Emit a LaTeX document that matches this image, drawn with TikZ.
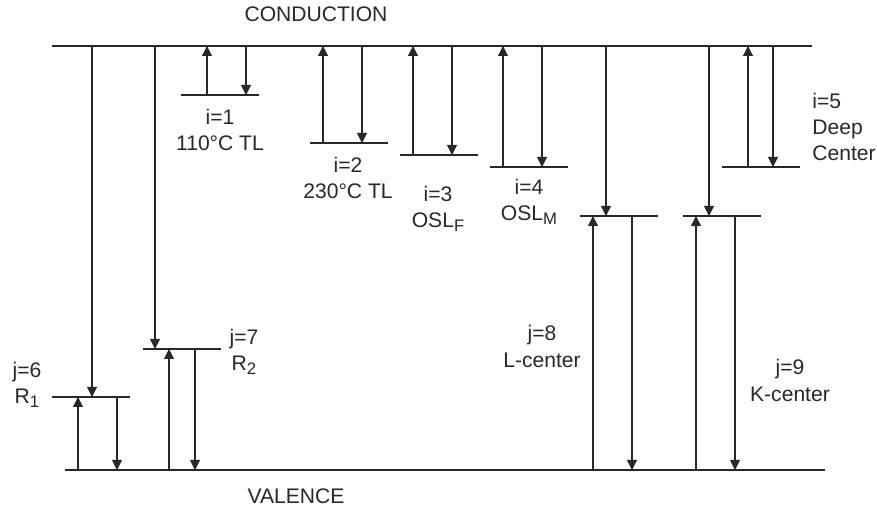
\documentclass[tikz,border=0pt]{standalone}
\usepackage{fontspec}
\setmainfont{Liberation Sans}
\usepackage{tikz}
\usetikzlibrary{arrows.meta, positioning, calc}
\definecolor{mydark}{RGB}{40,40,40}
\newcommand{\lowsub}[1]{\raisebox{-2.4pt}{\fontsize{9.5}{10}\selectfont #1}}
\tikzset{
  band/.style={line width=0.6pt, color=mydark},
  level/.style={line width=0.6pt, color=mydark},
  arrow/.style={-{Triangle[length=0.2cm, width=0.2cm]}, line width=0.6pt, color=mydark},
  levtext/.style={font=\fontsize{12}{15}\selectfont, text=mydark, align=center, inner sep=0pt},
  bandtext/.style={font=\fontsize{12}{15}\selectfont, text=mydark, inner sep=0pt}
}

\begin{document}
\begin{tikzpicture}
  \useasboundingbox (0,0) rectangle (17.54,10.22);

  % --- Bands ---
  \coordinate (cb) at (1.04,9.30);
  \coordinate (vb) at (1.30,0.82);
  \draw[band] (cb) -- (16.24,9.30);
  \draw[band] (vb) -- (16.50,0.82);
  \draw[band, line width=1.2pt] (2.60,0.82) -- (4.14,0.82);
  \node[bandtext] (cbtext) at (6.32,9.94) {CONDUCTION};
  \node[bandtext] (vbtext) at (5.92,0.30) {VALENCE};

  % --- Electron traps (i=1..5) ---
  \foreach \name/\x/\y/\u/\d in {i1/3.62/8.32/0.52/1.30, i2/6.20/7.36/0.26/1.04,
      i3/8.00/7.12/0.26/1.04, i4/9.80/6.88/0.26/1.04, i5/14.44/6.88/0.52/1.02} {
    \coordinate (\name) at (\x,\y);
    \coordinate (\name up) at ($(\name)+(\u,0)$);
    \coordinate (\name dn) at ($(\name)+(\d,0)$);
    \draw[level] (\name) -- ++(1.56,0);
    \draw[arrow] (\name up) -- (\name up |- cb);
    \draw[arrow] (\name dn |- cb) -- (\name dn);
  }

  % --- Recombination centers (j=6..9) ---
  \foreach \name/\x/\y/\c/\u/\d in {j6/1.04/2.28/0.80/0.52/1.30, j7/2.86/3.24/0.24/0.52/1.04,
      j8/11.60/5.90/0.52/0.26/1.04, j9/13.66/5.90/0.52/0.26/1.04} {
    \coordinate (\name) at (\x,\y);
    \coordinate (\name cb) at ($(\name)+(\c,0)$);
    \coordinate (\name up) at ($(\name)+(\u,0)$);
    \coordinate (\name dn) at ($(\name)+(\d,0)$);
    \draw[level] (\name) -- ++(1.56,0);
    \draw[arrow] (\name cb |- cb) -- (\name cb);
    \draw[arrow] (\name up |- vb) -- (\name up);
    \draw[arrow] (\name dn) -- (\name dn |- vb);
  }

  % --- Labels ---
  \node[levtext] (i1text) at (4.40,7.62) {i=1\\110°C TL};
  \node[levtext] (i2text) at (6.96,6.66) {i=2\\230°C TL};
  \node[levtext] (i3text) at (8.76,6.04) {i=3\\OSL\lowsub{F}};
  \node[levtext] (i4text) at (10.58,6.18) {i=4\\OSL\lowsub{M}};
  \node[levtext, align=left, anchor=west] (i5text) at (16.24,7.68) {i=5\\Deep\\Center};
  \node[levtext] (j6text) at (0.54,2.52) {j=6\\R\lowsub{1}};
  \node[levtext] (j7text) at (4.88,3.18) {j=7\\R\lowsub{2}};
  \node[levtext] (j8text) at (10.84,3.29) {j=8\\L-center};
  \node[levtext] (j9text) at (15.80,2.61) {j=9\\K-center};
\end{tikzpicture}
\end{document}
